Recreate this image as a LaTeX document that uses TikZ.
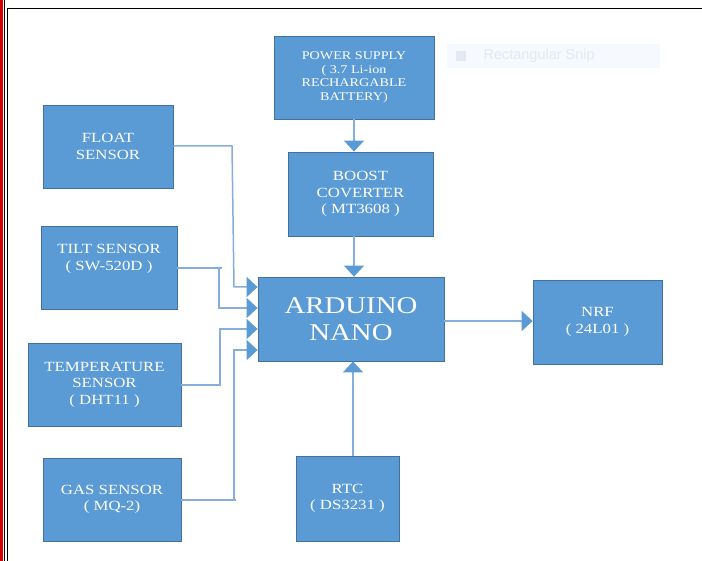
\documentclass[tikz,border=0pt]{standalone}
\usepackage{fontspec}
\setmainfont{Liberation Serif}[FakeStretch=1.2]
\newfontfamily\snipfont{Liberation Sans}
\usetikzlibrary{arrows.meta}
\definecolor{boxblue}{HTML}{5B9BD5}
\definecolor{boxedge}{HTML}{41719C}
\definecolor{linkblue}{HTML}{86AEDC}
\definecolor{tipblue}{HTML}{5B9BD5}
\definecolor{snipfill}{HTML}{F6F9FD}
\definecolor{sniptext}{HTML}{E2E9F3}
\tikzset{
  box/.style={draw=boxedge, line width=0.8pt, fill=boxblue, text=white,
    align=center, inner sep=0pt, font=\fontsize{14}{16.5}\selectfont},
  conn/.style={draw=linkblue, line width=1.5pt,
    -{Triangle[length=11pt 0,width=20pt 0,fill=tipblue,color=tipblue]}},
  plain/.style={draw=linkblue, line width=1.5pt},
}
\begin{document}
\begin{tikzpicture}[x=1pt,y=-1pt]
\useasboundingbox (0,0) rectangle (702,561);
\fill[white] (0,0) rectangle (702,561);
% frame
\draw[red!85!black, line width=3pt] (1.5,0) -- (1.5,561);
\draw[black, line width=1pt] (4,0) -- (4,561);
\draw[black, line width=1.5pt] (7.5,561) -- (7.5,8.5) -- (702,8.5);
% faint snip overlay
\fill[snipfill] (447,44) rectangle (660,68);
\fill[sniptext] (456,51) rectangle (466,61);
\node[text=sniptext, font=\snipfont\fontsize{14.5}{16}\selectfont, anchor=west] (snip) at (480,56) {Rectangular Snip};
% boxes
\node[box, minimum width=160pt, minimum height=83pt, font=\fontsize{11.8}{13.6}\selectfont] (power) at (354,77.5)
  {POWER SUPPLY\\ ( 3.7 Li-ion\\RECHARGABLE\\BATTERY)};
\node[box, minimum width=145pt, minimum height=84pt] (boost) at (360.5,194)
  {BOOST\\COVERTER\\( MT3608 )};
\node[box, minimum width=186pt, minimum height=84pt, font=\fontsize{24}{27}\selectfont] (ard) at (351,319)
  {ARDUINO\\NANO};
\node[box, minimum width=129pt, minimum height=84pt] (nrf) at (597.5,322)
  {NRF\\( 24L01 )};
\node[box, minimum width=103pt, minimum height=85pt] (rtc) at (347.5,498.5)
  {RTC\\( DS3231 )};
\node[box, minimum width=130pt, minimum height=83pt] (float) at (108,146.5)
  {FLOAT\\SENSOR};
\node[box, minimum width=136pt, minimum height=83pt] (tilt) at (109,267.5)
  {TILT SENSOR\\( SW-520D )\\[4pt]};
\node[box, minimum width=153pt, minimum height=83pt] (temp) at (104.5,384.5)
  {TEMPERATURE\\SENSOR\\( DHT11 )};
\node[box, minimum width=138pt, minimum height=83pt] (gas) at (112,499.5)
  {GAS SENSOR\\( MQ-2)};
% helper coordinates
\coordinate (xa) at (354,0);
\coordinate (xr) at (353,0);
\coordinate (in1) at (ard.west |- 0,287);
\coordinate (in2) at (ard.west |- 0,308);
\coordinate (in3) at (ard.west |- 0,329);
\coordinate (in4) at (ard.west |- 0,350);
% connectors
\draw[conn] (power.south -| xa) -- (boost.north -| xa);
\draw[conn] (boost.south -| xa) -- (ard.north -| xa);
\draw[conn] (rtc.north -| xr) -- (ard.south -| xr);
\draw[conn] (ard.east |- 0,321) -- (nrf.west |- 0,321);
\draw[conn] (float.east |- 0,146) -- (232,146) -- (234,287) -- (in1);
\draw[plain] (tilt.east |- 0,268) -- (222,268);
\draw[conn] (219,268) -- (219,308) -- (in2);
\draw[plain] (temp.east |- 0,385) -- (221,385);
\draw[conn] (220,385) -- (220,329) -- (in3);
\draw[plain] (gas.east |- 0,500) -- (236,500);
\draw[conn] (234,500) -- (234,350) -- (in4);
\end{tikzpicture}
\end{document}
